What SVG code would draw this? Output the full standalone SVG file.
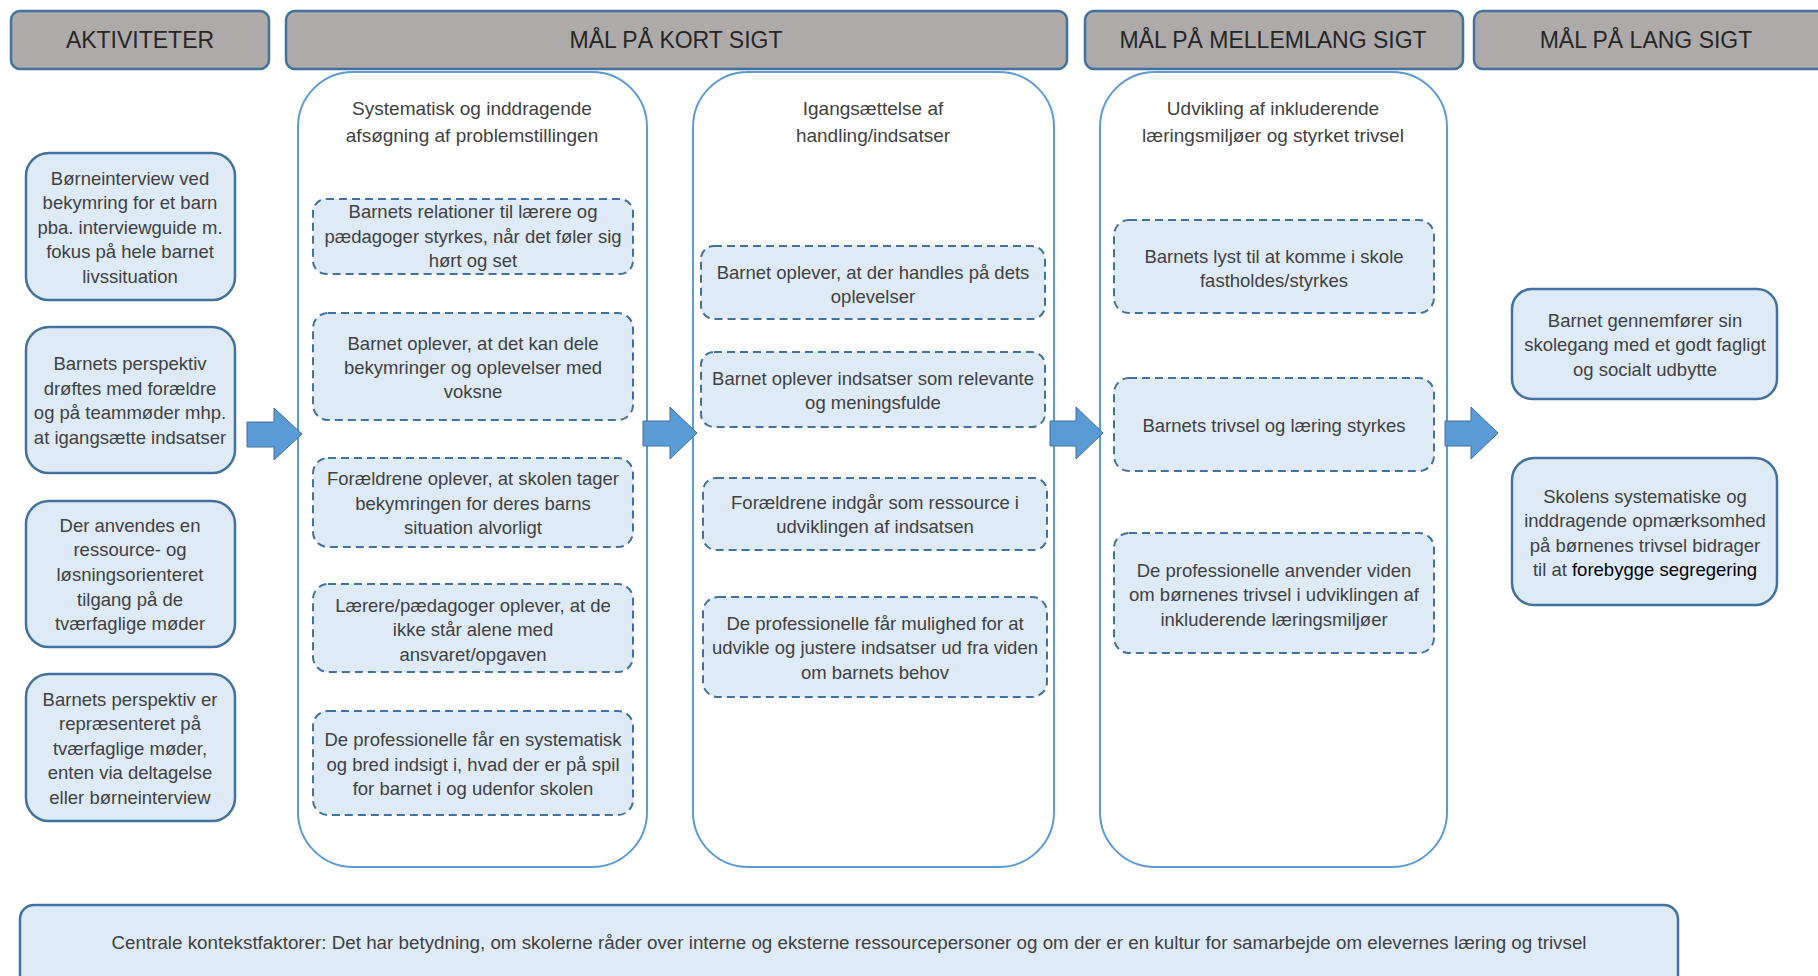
<svg xmlns="http://www.w3.org/2000/svg" width="1818" height="976" viewBox="0 0 1818 976">
<style>
.hdr{fill:#AEAAAA;stroke:#41719C;stroke-width:2.5}
.htxt{font-family:"Liberation Sans",Arial,sans-serif;font-size:23px;fill:#262626;text-anchor:middle}
.col{fill:#FFFFFF;stroke:#5B9BD5;stroke-width:2}
.act{fill:#DEEBF7;stroke:#41719C;stroke-width:2.5}
.dash{fill:#DEEBF7;stroke:#41719C;stroke-width:2;stroke-dasharray:8 5}
.t{font-family:"Liberation Sans",Arial,sans-serif;font-size:18.5px;fill:#404040;text-anchor:middle}
.ti{font-size:19px}
.bt{font-size:18.8px}
.arrow{fill:#5B9BD5;stroke:#41719C;stroke-width:1}
</style>
<rect width="1818" height="976" fill="#FFFFFF"/>

<g id="headers">
  <g id="h-aktiviteter"><rect class="hdr" x="11" y="11" width="258" height="58" rx="9"/><text class="htxt" x="140" y="48">AKTIVITETER</text></g>
  <g id="h-kort"><rect class="hdr" x="286" y="11" width="781" height="58" rx="9"/><text class="htxt" x="676" y="48">MÅL PÅ KORT SIGT</text></g>
  <g id="h-mellem"><rect class="hdr" x="1085" y="11" width="378" height="58" rx="9"/><text class="htxt" x="1273" y="48">MÅL PÅ MELLEMLANG SIGT</text></g>
  <g id="h-lang"><rect class="hdr" x="1474" y="11" width="360" height="58" rx="9"/><text class="htxt" x="1646" y="48">MÅL PÅ LANG SIGT</text></g>
</g>

<g id="col1">
  <rect class="col" x="298" y="72" width="349" height="795" rx="55"/>
  <text class="t ti"><tspan x="472" y="115">Systematisk og inddragende</tspan><tspan x="472" y="142">afsøgning af problemstillingen</tspan></text>
</g>
<g id="col2">
  <rect class="col" x="693" y="72" width="361" height="795" rx="55"/>
  <text class="t ti"><tspan x="873" y="115">Igangsættelse af</tspan><tspan x="873" y="142">handling/indsatser</tspan></text>
</g>
<g id="col3">
  <rect class="col" x="1100" y="72" width="347" height="795" rx="55"/>
  <text class="t ti"><tspan x="1273" y="115">Udvikling af inkluderende</tspan><tspan x="1273" y="142">læringsmiljøer og styrket trivsel</tspan></text>
</g>

<g id="a1"><rect class="act" x="26" y="153" width="209" height="147" rx="23"/>
<text class="t"><tspan x="130" y="185">Børneinterview ved</tspan><tspan x="130" y="209">bekymring for et barn</tspan><tspan x="130" y="234">pba. interviewguide m.</tspan><tspan x="130" y="258">fokus på hele barnet</tspan><tspan x="130" y="283">livssituation</tspan></text></g>
<g id="a2"><rect class="act" x="26" y="327" width="209" height="146" rx="23"/>
<text class="t"><tspan x="130" y="370">Barnets perspektiv</tspan><tspan x="130" y="395">drøftes med forældre</tspan><tspan x="130" y="419">og på teammøder mhp.</tspan><tspan x="130" y="444">at igangsætte indsatser</tspan></text></g>
<g id="a3"><rect class="act" x="26" y="501" width="209" height="146" rx="23"/>
<text class="t"><tspan x="130" y="532">Der anvendes en</tspan><tspan x="130" y="556">ressource- og</tspan><tspan x="130" y="581">løsningsorienteret</tspan><tspan x="130" y="606">tilgang på de</tspan><tspan x="130" y="630">tværfaglige møder</tspan></text></g>
<g id="a4"><rect class="act" x="26" y="674" width="209" height="147" rx="23"/>
<text class="t"><tspan x="130" y="706">Barnets perspektiv er</tspan><tspan x="130" y="730">repræsenteret på</tspan><tspan x="130" y="755">tværfaglige møder,</tspan><tspan x="130" y="779">enten via deltagelse</tspan><tspan x="130" y="804">eller børneinterview</tspan></text></g>

<g id="k1"><rect class="dash" x="313" y="199" width="320" height="75" rx="13"/>
<text class="t"><tspan x="473" y="218">Barnets relationer til lærere og</tspan><tspan x="473" y="243">pædagoger styrkes, når det føler sig</tspan><tspan x="473" y="267">hørt og set</tspan></text></g>
<g id="k2"><rect class="dash" x="313" y="313" width="320" height="107" rx="15"/>
<text class="t"><tspan x="473" y="350">Barnet oplever, at det kan dele</tspan><tspan x="473" y="374">bekymringer og oplevelser med</tspan><tspan x="473" y="398">voksne</tspan></text></g>
<g id="k3"><rect class="dash" x="313" y="458" width="320" height="89" rx="15"/>
<text class="t"><tspan x="473" y="485">Forældrene oplever, at skolen tager</tspan><tspan x="473" y="510">bekymringen for deres barns</tspan><tspan x="473" y="534">situation alvorligt</tspan></text></g>
<g id="k4"><rect class="dash" x="313" y="584" width="320" height="88" rx="15"/>
<text class="t"><tspan x="473" y="612">Lærere/pædagoger oplever, at de</tspan><tspan x="473" y="636">ikke står alene med</tspan><tspan x="473" y="661">ansvaret/opgaven</tspan></text></g>
<g id="k5"><rect class="dash" x="313" y="711" width="320" height="104" rx="15"/>
<text class="t"><tspan x="473" y="746">De professionelle får en systematisk</tspan><tspan x="473" y="771">og bred indsigt i, hvad der er på spil</tspan><tspan x="473" y="795">for barnet i og udenfor skolen</tspan></text></g>

<g id="i1"><rect class="dash" x="701" y="246" width="344" height="73" rx="13"/>
<text class="t"><tspan x="873" y="279">Barnet oplever, at der handles på dets</tspan><tspan x="873" y="303">oplevelser</tspan></text></g>
<g id="i2"><rect class="dash" x="701" y="352" width="344" height="75" rx="13"/>
<text class="t"><tspan x="873" y="385">Barnet oplever indsatser som relevante</tspan><tspan x="873" y="409">og meningsfulde</tspan></text></g>
<g id="i3"><rect class="dash" x="703" y="478" width="344" height="72" rx="13"/>
<text class="t"><tspan x="875" y="509">Forældrene indgår som ressource i</tspan><tspan x="875" y="533">udviklingen af indsatsen</tspan></text></g>
<g id="i4"><rect class="dash" x="703" y="597" width="344" height="100" rx="15"/>
<text class="t"><tspan x="875" y="630">De professionelle får mulighed for at</tspan><tspan x="875" y="654">udvikle og justere indsatser ud fra viden</tspan><tspan x="875" y="679">om barnets behov</tspan></text></g>

<g id="u1"><rect class="dash" x="1114" y="220" width="320" height="93" rx="15"/>
<text class="t"><tspan x="1274" y="263">Barnets lyst til at komme i skole</tspan><tspan x="1274" y="287">fastholdes/styrkes</tspan></text></g>
<g id="u2"><rect class="dash" x="1114" y="378" width="320" height="93" rx="15"/>
<text class="t"><tspan x="1274" y="432">Barnets trivsel og læring styrkes</tspan></text></g>
<g id="u3"><rect class="dash" x="1114" y="533" width="320" height="120" rx="15"/>
<text class="t"><tspan x="1274" y="577">De professionelle anvender viden</tspan><tspan x="1274" y="601">om børnenes trivsel i udviklingen af</tspan><tspan x="1274" y="626">inkluderende læringsmiljøer</tspan></text></g>

<g id="l1"><rect class="act" x="1512" y="289" width="265" height="110" rx="20"/>
<text class="t"><tspan x="1645" y="327">Barnet gennemfører sin</tspan><tspan x="1645" y="351">skolegang med et godt fagligt</tspan><tspan x="1645" y="376">og socialt udbytte</tspan></text></g>
<g id="l2"><rect class="act" x="1512" y="458" width="265" height="147" rx="22"/>
<text class="t"><tspan x="1645" y="503">Skolens systematiske og</tspan><tspan x="1645" y="527">inddragende opmærksomhed</tspan><tspan x="1645" y="552">på børnenes trivsel bidrager</tspan><tspan x="1645" y="576">til at  <tspan fill="#000000">forebygge segregering</tspan></tspan></text></g>

<g id="kontekst"><rect class="act" x="20" y="905" width="1658" height="90" rx="14"/>
<text class="t bt" x="849" y="949">Centrale kontekstfaktorer: Det har betydning, om skolerne råder over interne og eksterne ressourcepersoner og om der er en kultur for samarbejde om elevernes læring og trivsel</text></g>

<g id="connectors">
  <path class="arrow" d="M247,422 H274 V408 L302,434 L274,460 V447 H247 Z"/>
  <path class="arrow" d="M643,421 H670 V407 L697,433 L670,459 V446 H643 Z"/>
  <path class="arrow" d="M1050,421 H1076 V407 L1103,433 L1076,459 V446 H1050 Z"/>
  <path class="arrow" d="M1445,421 H1471 V407 L1498,433 L1471,459 V446 H1445 Z"/>
</g>
</svg>
